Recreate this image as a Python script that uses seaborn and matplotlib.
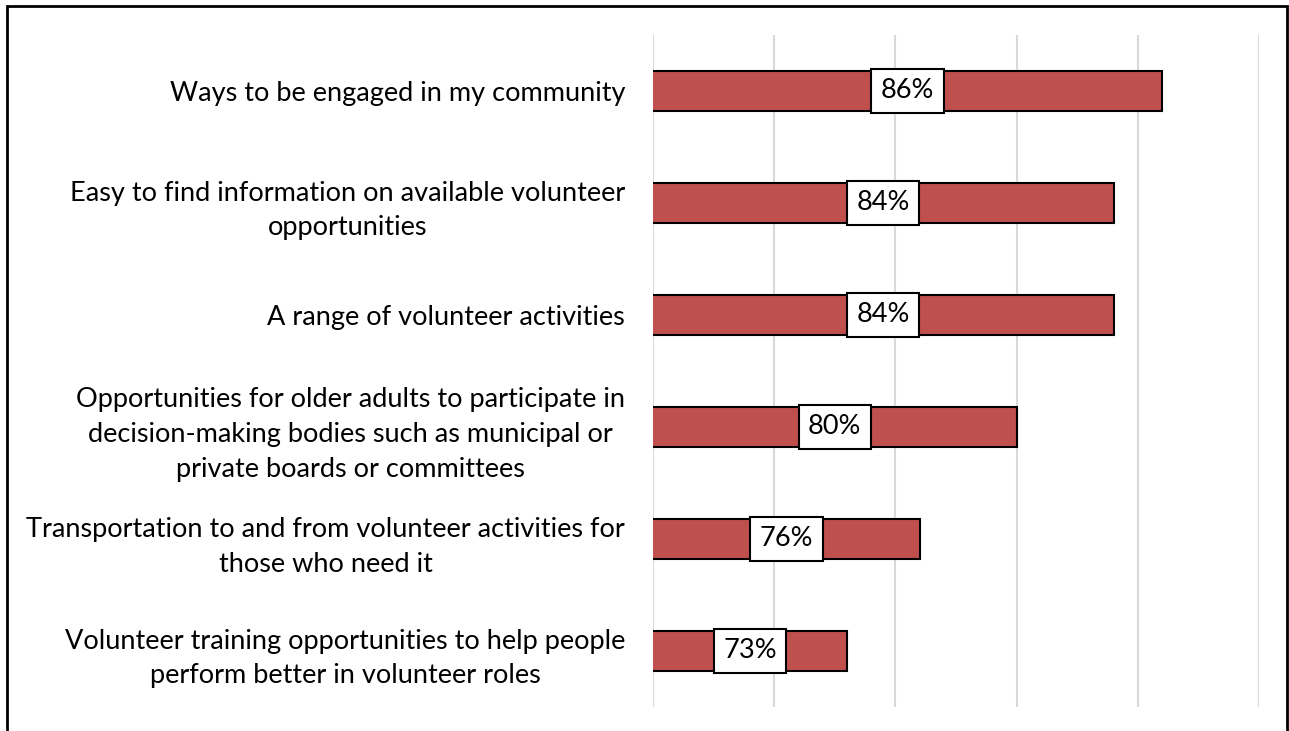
import matplotlib
matplotlib.use("Agg")
import matplotlib.pyplot as plt
import matplotlib.patches as mpatches
import seaborn as sns
import pandas as pd

categories = [
    "Ways to be engaged in my community",
    "Easy to find information on available volunteer\nopportunities",
    "A range of volunteer activities",
    "Opportunities for older adults to participate in\ndecision-making bodies such as municipal or\nprivate boards or committees",
    "Transportation to and from volunteer activities for\nthose who need it",
    "Volunteer training opportunities to help people\nperform better in volunteer roles",
]
values = [86, 84, 84, 80, 76, 73]
x_ticks = [65, 70, 75, 80, 85, 90]

df = pd.DataFrame({"item": categories, "pct": values})

sns.set_theme(style="white")
plt.rcParams["font.family"] = ["Lato", "DejaVu Sans"]

fig = plt.figure(figsize=(12.89, 7.31), dpi=100)
ax = fig.add_axes([653 / 1289, 1 - 707 / 731, (1259 - 653) / 1289, (707 - 35) / 731])

sns.barplot(data=df, x="pct", y="item", orient="h", color="#C0504D",
            saturation=1, width=0.35, edgecolor="black", linewidth=1.5, ax=ax)

x0, x1 = x_ticks[0], x_ticks[-1]
ax.set_xlim(x0, x1)
ax.set_xticks(x_ticks)
ax.xaxis.grid(True, color="#D9D9D9", linewidth=1.5)
ax.set_axisbelow(True)
for s in ax.spines.values():
    s.set_visible(False)
ax.tick_params(axis="x", labelbottom=False, length=0)
ax.tick_params(axis="y", length=0, pad=20)
ax.set_xlabel("")
ax.set_ylabel("")
for lbl in ax.get_yticklabels():
    lbl.set_fontsize(19.5)
    lbl.set_color("#000000")
    lbl.set_multialignment("center")
    lbl.set_linespacing(1.5)

for bar, v in zip(ax.patches, values):
    cy = bar.get_y() + bar.get_height() / 2
    cx = (x0 + v) / 2
    ax.text(cx, cy, f"{v}%", ha="center", va="center", fontsize=19.5, color="black",
            bbox=dict(boxstyle="square,pad=0.35", facecolor="white", edgecolor="black", linewidth=1.5),
            zorder=5)

# outer frame
fig.add_artist(mpatches.Rectangle((6.5 / 1289, -0.05), (1287 - 6.5) / 1289, 1.05 - 6 / 731,
                                  transform=fig.transFigure, fill=False,
                                  edgecolor="black", linewidth=2))

fig.savefig("out.png", dpi=100)
